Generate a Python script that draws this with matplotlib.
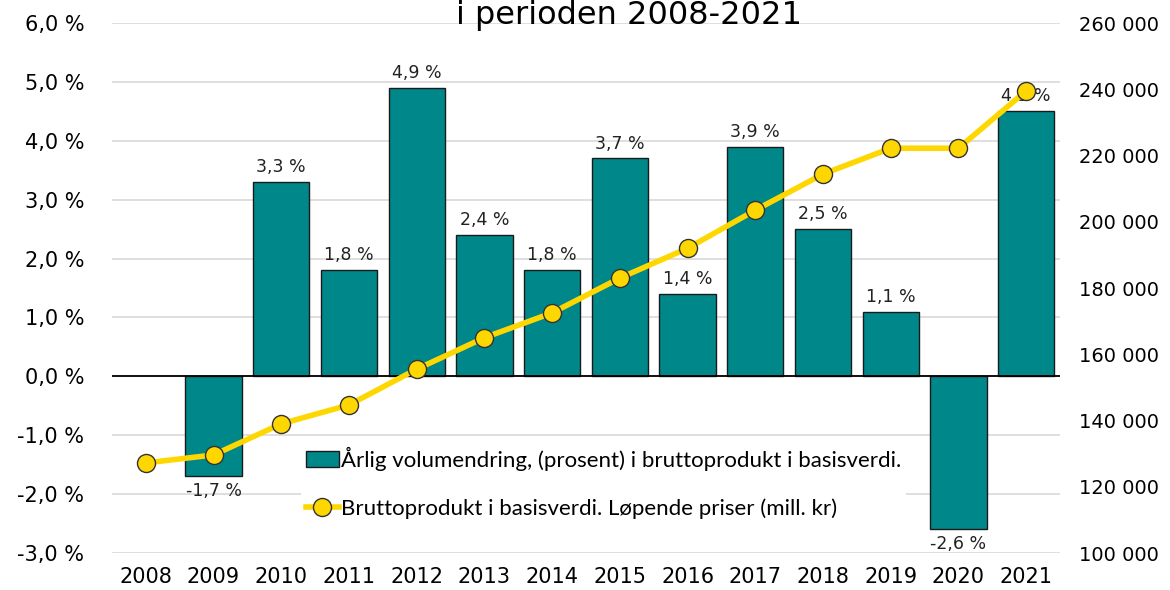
import matplotlib
matplotlib.use('Agg')
import matplotlib.pyplot as plt
import numpy as np
from matplotlib.ticker import FuncFormatter

years = ['2008', '2009', '2010', '2011', '2012', '2013', '2014',
         '2015', '2016', '2017', '2018', '2019', '2020', '2021']
# annual volume change in percent (2008 has no bar)
vol_change = [np.nan, -1.7, 3.3, 1.8, 4.9, 2.4, 1.8, 3.7, 1.4, 3.9, 2.5, 1.1, -2.6, 4.5]
# gross product in current prices, mill. kr
gross_product = [127200, 129600, 139000, 144700, 155500, 165000, 172500,
                 183000, 192000, 203500, 214400, 222200, 222200, 239500]

bar_label = 'Årlig volumendring, (prosent) i bruttoprodukt i basisverdi.'
line_label = 'Bruttoprodukt i basisverdi. Løpende priser (mill. kr)'

plt.rcParams['font.family'] = ['DejaVu Sans']

fig = plt.figure(figsize=(11.7, 5.9), dpi=100)
ax = fig.add_axes([0.0957, 0.0627, 0.8103, 0.8983])
ax2 = ax.twinx()

x = np.arange(len(years))
bars = ax.bar(x, vol_change, width=0.83, color='#00878A', edgecolor='#1a1a1a',
              linewidth=1, zorder=2, label=bar_label)

for xi, v in zip(x, vol_change):
    if np.isnan(v):
        continue
    txt = f'{v:.1f}'.replace('.', ',') + ' %'
    if v >= 0:
        ax.text(xi, v + 0.1, txt, ha='center', va='bottom', fontsize=12.5, color='#222222', zorder=5)
    else:
        ax.text(xi, v - 0.1, txt, ha='center', va='top', fontsize=12.5, color='#222222', zorder=5)

ax.set_ylim(-3, 6)
ax.set_yticks(np.arange(-3, 7, 1))
ax.yaxis.set_major_formatter(FuncFormatter(lambda v, p: f'{v:.1f}'.replace('.', ',') + ' %'))
ax.set_xlim(-0.5, len(years) - 0.5)
ax.set_xticks(x)
ax.set_xticklabels(years)
ax.grid(axis='y', color='#d9d9d9', linewidth=1.2, zorder=0)
ax.set_axisbelow(True)
ax.axhline(0, color='black', linewidth=1.3, zorder=3)

line, = ax2.plot(x, gross_product, color='#FFD700', linewidth=4, marker='o',
                 markersize=13, markerfacecolor='#FFD700', markeredgecolor='#333333',
                 markeredgewidth=1, zorder=4, label=line_label)
ax2.set_ylim(100000, 260000)
ax2.set_yticks(np.arange(100000, 260001, 20000))
ax2.yaxis.set_major_formatter(FuncFormatter(lambda v, p: f'{int(v):,}'.replace(',', ' ')))

# line above the bars
ax2.set_zorder(ax.get_zorder() + 1)
ax2.patch.set_visible(False)
ax.patch.set_facecolor('white')

for a in (ax, ax2):
    for s in a.spines.values():
        s.set_visible(False)
    a.tick_params(length=0, labelsize=15, colors='black')
ax2.tick_params(axis='y', labelsize=14, pad=14)
ax.tick_params(axis='y', pad=20)
ax.tick_params(axis='x', pad=10)

leg = ax2.legend([bars, line], [bar_label, line_label], loc='upper left',
                 bbox_to_anchor=(0.188, 0.23), frameon=True, fancybox=False,
                 edgecolor='none', facecolor='white', framealpha=1,
                 prop={'family': 'Lato', 'size': 16}, handlelength=1.5,
                 handletextpad=0.1, labelspacing=1.25, borderpad=0.2)

fig.text(0.538, 0.9595, 'i perioden 2008-2021', ha='center', va='baseline', fontsize=23)

fig.savefig('out.png', dpi=100)
